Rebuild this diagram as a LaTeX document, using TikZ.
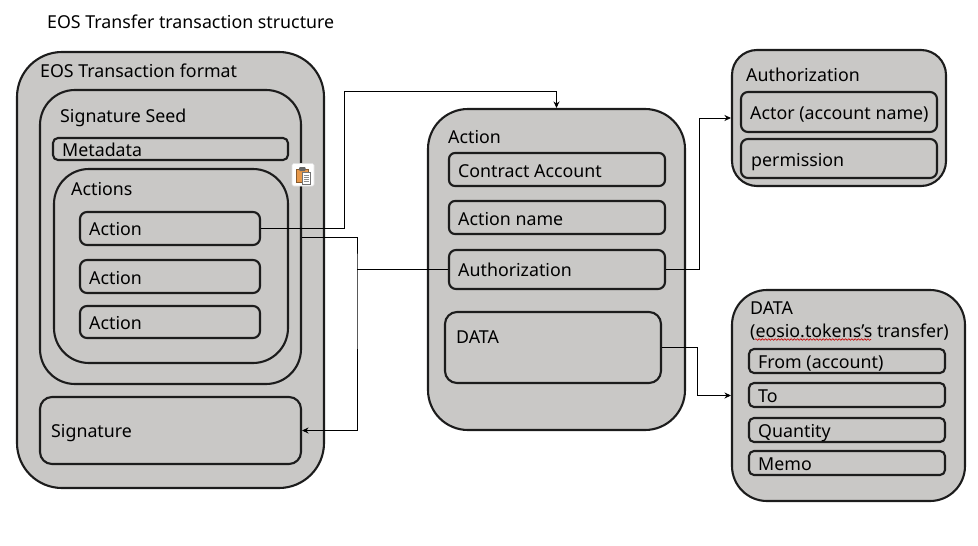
\documentclass[tikz,border=0pt]{standalone}
\usepackage{fontspec}
\setmainfont{Noto Sans}
\usetikzlibrary{arrows.meta,decorations.pathmorphing}
\definecolor{panelgray}{HTML}{C9C8C6}
\definecolor{linedark}{HTML}{1C1C1C}
\tikzset{
  boxshape/.style={draw=linedark,line width=2.1pt,fill=panelgray,rectangle,inner sep=0pt},
  lbl/.style={anchor=base west,inner sep=0pt,text=black,font=\fontsize{17.8}{22}\selectfont},
  conn/.style={draw=black,line width=0.9pt},
  tip/.style={-{Stealth[length=6.5pt,width=6pt]}}
}
% name, x1, y1, x2, y2, radius
\newcommand{\bx}[6]{%
  \pgfmathsetmacro{\bw}{#4-#2}\pgfmathsetmacro{\bh}{#5-#3}%
  \pgfmathsetmacro{\cx}{(#2+#4)/2}\pgfmathsetmacro{\cy}{(#3+#5)/2}%
  \node[boxshape,rounded corners=#6pt,minimum width=\bw pt,minimum height=\bh pt] (#1) at (\cx,\cy) {};}
\begin{document}
\begin{tikzpicture}[x=1pt,y=-1pt]
\useasboundingbox (0,0) rectangle (978,546);
\node[lbl] (title) at (47,28) {EOS Transfer transaction structure};
% left stack
\bx{format}{17}{52}{324}{488}{45}
\bx{seed}{40}{90}{301}{384}{35}
\bx{meta}{53}{138}{288}{160}{5}
\bx{actions}{54}{169}{288}{363}{35}
\bx{actionA}{80}{212}{260}{245}{7}
\bx{actionB}{80}{260}{260}{293}{7}
\bx{actionC}{80}{306}{260}{338}{7}
\bx{signature}{40}{397}{301}{464}{12}
\node[lbl] (tformat) at (40,77) {EOS Transaction format};
\node[lbl] (tseed) at (60,122) {Signature Seed};
\node[lbl] (tmeta) at (62,156) {Metadata};
\node[lbl] (tactions) at (71,195) {Actions};
\node[lbl] (tactionA) at (89,235) {Action};
\node[lbl] (tactionB) at (89,284) {Action};
\node[lbl] (tactionC) at (89,329) {Action};
\node[lbl] (tsignature) at (51,437) {Signature};
% middle
\bx{action}{428}{109}{685}{430}{40}
\bx{contract}{449}{153}{665}{186}{6}
\bx{aname}{449}{201}{665}{234}{6}
\bx{auth}{449}{250}{665}{289}{7}
\bx{data}{445}{312}{661}{383}{12}
\node[lbl] (taction) at (448,143) {Action};
\node[lbl] (tcontract) at (458,177) {Contract Account};
\node[lbl] (taname) at (458,225) {Action name};
\node[lbl] (tauth) at (458,276) {Authorization};
\node[lbl] (tdata) at (456,343) {DATA};
% right top
\bx{authp}{732}{50}{946}{186}{25}
\bx{actor}{741}{92}{937}{132}{7}
\bx{perm}{741}{139}{937}{178}{7}
\node[lbl] (tauthp) at (746,81) {Authorization};
\node[lbl] (tactor) at (750,119) {Actor (account name)};
\node[lbl] (tperm) at (751,166) {permission};
% right bottom
\bx{datap}{732}{290}{965}{501}{35}
\bx{from}{749}{349}{945}{373}{5}
\bx{to}{749}{383}{945}{407}{5}
\bx{qty}{749}{418}{945}{442}{5}
\bx{memo}{749}{451}{945}{475}{5}
\node[lbl] (tdatap) at (750,314) {DATA};
\node[lbl] (tdatab) at (750,337) {(eosio.tokens's transfer)};
\node[lbl] (tfrom) at (758,368) {From (account)};
\node[lbl] (tto) at (758,402) {To};
\node[lbl] (tqty) at (758,437) {Quantity};
\node[lbl] (tmemo) at (758,470) {Memo};
% spell-check squiggle
\draw[red!80!black,line width=0.6pt,decorate,decoration={snake,amplitude=0.8pt,segment length=3.2pt}] (755,339.5) -- (871,339.5);
% clipboard icon
\fill[white,draw=black!12,line width=0.7pt,rounded corners=1.5pt] (292,163.5) rectangle (314,186);
\fill[fill=orange!55!brown!80!white,draw=brown!70!black,line width=0.4pt] (296.5,169) rectangle (308,182.5);
\fill[black!60,rounded corners=1pt] (299,167) rectangle (305.5,171);
\fill[white,draw=black!55,line width=0.4pt] (302,172.5) rectangle (310.5,184);
\foreach \ly in {175,177,179,181}{\draw[black!45,line width=0.5pt] (303.5,\ly) -- (309,\ly);}
% connectors
\coordinate (upA) at (344,91);
\coordinate (busA) at (357,269.5);
\coordinate (upB) at (699,118);
\coordinate (downB) at (697,395.5);
\draw[conn,tip] (actionA.east) -| (upA) -| (action.north);
\draw[conn,tip] (seed.east) -| (busA) |- (signature.east);
\draw[conn] (auth.west) -- (busA);
\draw[conn,tip] (auth.east) -| (upB) -- (authp.west);
\draw[conn,tip] (data.east) -| (downB) -- (datap.west);
\end{tikzpicture}
\end{document}
